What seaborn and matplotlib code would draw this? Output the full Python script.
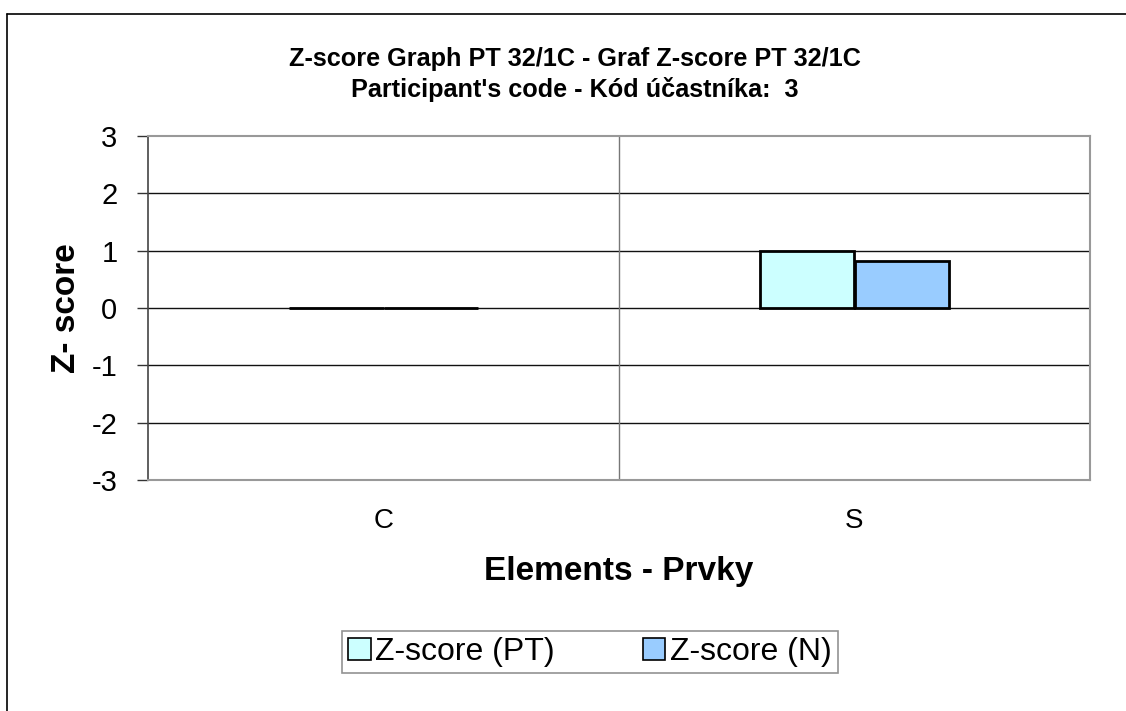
import matplotlib.pyplot as plt
import numpy as np
import pandas as pd
import seaborn as sns
from matplotlib.lines import Line2D

# chart data
elements = ["C", "S"]
series = ["Z-score (PT)", "Z-score (N)"]
z_pt = [0.0, 1.0]
z_n = [0.0, 0.82]
y_ticks = [-3, -2, -1, 0, 1, 2, 3]

colors = ["#CCFFFF", "#99CCFF"]

df = pd.DataFrame({
    "element": elements * 2,
    "series": [series[0]] * len(elements) + [series[1]] * len(elements),
    "z": z_pt + z_n,
})

sns.set_theme(style="white")
plt.rcParams["font.family"] = ["Liberation Sans", "DejaVu Sans"]
plt.rcParams["text.color"] = "black"
plt.rcParams["axes.labelcolor"] = "black"
plt.rcParams["xtick.color"] = "black"
plt.rcParams["ytick.color"] = "black"

fig = plt.figure(figsize=(11.26, 7.11), dpi=100)
ax = fig.add_axes([148 / 1126, 1 - 480 / 711, (1090 - 148) / 1126, (480 - 136) / 711])

sns.barplot(data=df, x="element", y="z", hue="series", palette=colors,
            saturation=1, width=0.4, gap=0, edgecolor="black", linewidth=2,
            ax=ax, errorbar=None)

ax.set_xlim(-0.5, 1.5)
ax.set_ylim(-3, 3)
ax.set_yticks(y_ticks)
ax.set_yticklabels([str(t) for t in y_ticks], fontsize=21)

# gridlines like the Excel chart
for t in y_ticks[1:-1]:
    ax.axhline(t, color="#111111", linewidth=1, zorder=0)
ax.axvline(0.5, color="#777777", linewidth=1, zorder=0)

for name, sp in ax.spines.items():
    sp.set_visible(True)
    sp.set_color("#999999")
    sp.set_linewidth(1.5)
ax.spines["left"].set_color("#444444")
ax.spines["left"].set_linewidth(1.2)

ax.tick_params(axis="y", direction="out", length=8, width=1, color="#333333",
               left=True, pad=14)
ax.tick_params(axis="x", length=0, pad=20, labelsize=20)

ax.set_xlabel("Elements - Prvky", fontsize=24, fontweight="bold", labelpad=16)
ax.set_ylabel("Z- score", fontsize=24, fontweight="bold", labelpad=7)

fig.suptitle("Z-score Graph PT 32/1C - Graf Z-score PT 32/1C\n"
             "Participant's code - Kód účastníka:  3",
             x=575 / 1126, y=1 - 47 / 711, fontsize=18.2, fontweight="bold",
             linespacing=1.3)

ax.get_legend().remove()
handles = [plt.Rectangle((0, 0), 1, 1, facecolor=c, edgecolor="black", linewidth=1.2)
           for c in colors]
leg = fig.legend(handles, series, loc="center", ncol=2,
                 bbox_to_anchor=(590 / 1126, 1 - 652 / 711), fontsize=23,
                 frameon=True, fancybox=False, handlelength=0.7, handleheight=0.7,
                 handletextpad=0.15, columnspacing=2.75, borderpad=0.2,
                 borderaxespad=0)
leg.get_frame().set_edgecolor("#777777")
leg.get_frame().set_linewidth(1.2)

# outer chart frame
fig.add_artist(Line2D([7 / 1126, 7 / 1126], [1 - 14 / 711, -0.1],
                      transform=fig.transFigure, color="black", linewidth=1.2))
fig.add_artist(Line2D([7 / 1126, 1.1], [1 - 14 / 711, 1 - 14 / 711],
                      transform=fig.transFigure, color="black", linewidth=1.2))

fig.savefig("out.png", dpi=100, facecolor="white")
